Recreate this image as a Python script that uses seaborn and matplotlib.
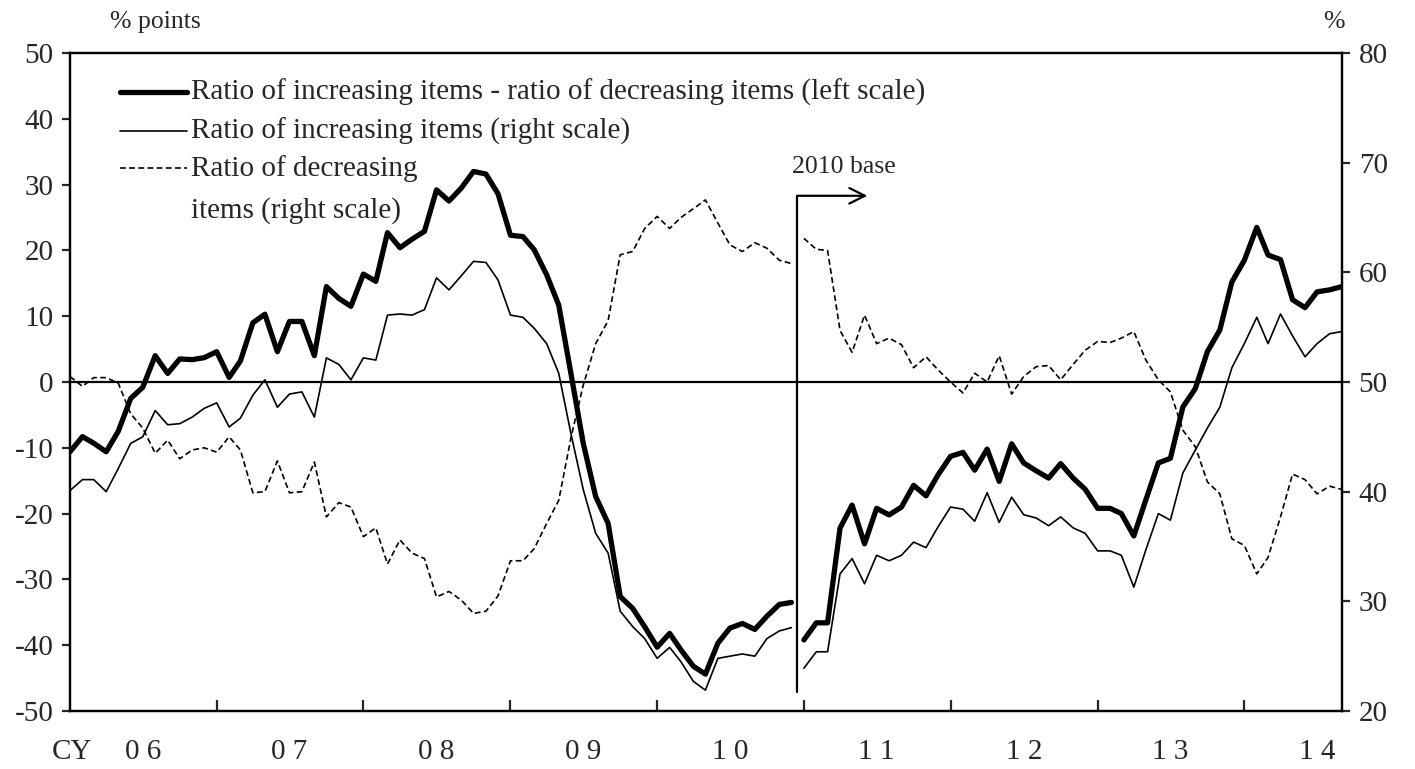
#!/usr/bin/env python
"""Ratio of increasing / decreasing items, monthly 2006-2014,
with the 2010 base break drawn as a gap in the lines.
"""
import matplotlib
matplotlib.use('Agg')
import matplotlib.pyplot as plt
import seaborn as sns
import pandas as pd


# monthly series, Jan 2006 .. Sep 2014
# increasing minus decreasing, % points, left scale
diff_left = [
    -10.6, -8.3, -9.3, -10.6, -7.5, -2.5, -0.8, 4.0, 1.3, 3.5, 3.4, 3.7,
    4.6, 0.7, 3.2, 9.0, 10.3, 4.6, 9.2, 9.2, 4.0, 14.5, 12.7, 11.5,
    16.4, 15.3, 22.7, 20.4, 21.7, 22.9, 29.2, 27.5, 29.5, 32.0, 31.6, 28.6,
    22.3, 22.1, 20.1, 16.3, 11.7, 1.1, -9.3, -17.4, -21.5, -32.6, -34.4, -37.2,
    -40.3, -38.2, -40.7, -43.2, -44.4, -39.7, -37.4, -36.7, -37.6, -35.6, -33.8, -33.5,
    -39.2, -36.6, -36.6, -22.2, -18.7, -24.6, -19.2, -20.2, -19.0, -15.7, -17.3, -14.1,
    -11.3, -10.7, -13.4, -10.2, -15.1, -9.4, -12.3, -13.5, -14.6, -12.4, -14.6, -16.3,
    -19.2, -19.2, -20.0, -23.4, -17.9, -12.3, -11.6, -3.8, -1.0, 4.6, 7.9, 15.2,
    18.5, 23.5, 19.3, 18.6, 12.5, 11.3, 13.7, 14.0, 14.5,
]
# ratio of increasing items, %, right scale
inc_right = [
    40.1, 41.1, 41.1, 40.0, 42.1, 44.4, 45.0, 47.4, 46.1, 46.2, 46.8, 47.6,
    48.1, 45.9, 46.7, 48.8, 50.2, 47.7, 48.9, 49.1, 46.8, 52.2, 51.6, 50.2,
    52.2, 52.0, 56.1, 56.2, 56.1, 56.6, 59.5, 58.4, 59.7, 61.0, 60.9, 59.3,
    56.1, 55.9, 54.9, 53.5, 50.8, 45.2, 40.2, 36.2, 34.4, 29.1, 27.7, 26.6,
    24.8, 25.8, 24.5, 22.7, 21.9, 24.8, 25.0, 25.2, 25.0, 26.6, 27.3, 27.6,
    23.9, 25.4, 25.4, 32.5, 33.9, 31.6, 34.2, 33.7, 34.2, 35.4, 34.9, 36.8,
    38.6, 38.4, 37.3, 39.9, 37.2, 39.5, 37.9, 37.6, 36.9, 37.7, 36.7, 36.2,
    34.6, 34.6, 34.2, 31.3, 34.7, 38.0, 37.4, 41.7, 43.8, 45.8, 47.7, 51.3,
    53.5, 55.9, 53.5, 56.2, 54.2, 52.3, 53.5, 54.4, 54.6,
]
# ratio of decreasing items, %, right scale
dec_right = [
    50.5, 49.6, 50.4, 50.4, 49.9, 47.1, 45.8, 43.5, 44.7, 43.0, 43.8, 44.0,
    43.6, 45.0, 43.8, 39.9, 40.0, 42.8, 39.9, 40.0, 42.7, 37.7, 39.0, 38.6,
    35.9, 36.7, 33.4, 35.6, 34.4, 33.9, 30.4, 30.9, 30.1, 28.9, 29.1, 30.5,
    33.7, 33.7, 34.8, 37.1, 39.2, 45.0, 49.7, 53.5, 55.6, 61.6, 61.9, 64.0,
    65.1, 64.0, 65.0, 65.8, 66.6, 64.5, 62.5, 61.9, 62.7, 62.2, 61.1, 60.8,
    63.1, 62.1, 62.0, 54.7, 52.7, 56.1, 53.5, 54.0, 53.4, 51.3, 52.3, 51.1,
    50.0, 49.0, 50.8, 50.0, 52.4, 48.9, 50.5, 51.4, 51.5, 50.2, 51.6, 52.9,
    53.7, 53.6, 54.0, 54.6, 52.0, 50.2, 49.1, 45.6, 44.1, 40.9, 39.8, 35.7,
    35.1, 32.5, 34.0, 37.7, 41.6, 41.1, 39.8, 40.5, 40.2,
]
years = list(range(2006, 2015))
year_labels = ['0 6', '0 7', '0 8', '0 9', '1 0', '1 1', '1 2', '1 3', '1 4']

legend_texts = [
    'Ratio of increasing items - ratio of decreasing items (left scale)',
    'Ratio of increasing items (right scale)',
    'Ratio of decreasing',
    'items (right scale)',
]


def main():
    sns.set_style('ticks')
    plt.rcParams['font.family'] = ['Liberation Serif', 'DejaVu Serif']
    plt.rcParams['axes.unicode_minus'] = False
    plt.rcParams['axes.linewidth'] = 1.6
    plt.rcParams['axes.edgecolor'] = 'black'

    dates = pd.date_range('2006-01-01', periods=len(diff_left), freq='MS')
    df = pd.DataFrame({
        'date': dates,
        'diff': diff_left,
        'inc': inc_right,
        'dec': dec_right,
    })
    # old / new base year -> separate line pieces
    df['base'] = ['2005' if d < pd.Timestamp('2011-01-01') else '2010' for d in dates]

    fig = plt.figure(figsize=(14.15, 7.69), dpi=100)
    ax = fig.add_axes([70 / 1415, 1 - 711 / 769, 1272 / 1415, 658 / 769])
    ax2 = ax.twinx()

    sns.lineplot(data=df, x='date', y='diff', units='base', estimator=None,
                 color='black', lw=3.8, ax=ax, legend=False)
    sns.lineplot(data=df, x='date', y='inc', units='base', estimator=None,
                 color='black', lw=1.2, ax=ax2, legend=False)
    sns.lineplot(data=df, x='date', y='dec', units='base', estimator=None,
                 color='black', lw=1.2, linestyle=(0, (3.5, 2)), ax=ax2,
                 legend=False)

    ax.axhline(0, color='black', lw=1.6, zorder=1)

    x0 = pd.Timestamp('2006-01-01')
    x1 = pd.Timestamp('2014-09-01')
    ax.set_xlim(x0, x1)
    ax.set_ylim(-50, 50)
    ax2.set_ylim(20, 80)
    ax.set_yticks(range(-50, 51, 10))
    ax2.set_yticks(range(20, 81, 10))
    ax.set_xlabel('')
    ax.set_ylabel('')
    ax2.set_xlabel('')
    ax2.set_ylabel('')

    # year boundaries as inward minor ticks, labels in the middle of the year
    ax.set_xticks([pd.Timestamp(f'{y}-01-01') for y in years[1:]], minor=True)
    ax.set_xticks([pd.Timestamp(f'{y}-07-01') for y in years])
    ax.set_xticklabels(year_labels)
    ax.tick_params(axis='x', which='major', length=0, pad=20, labelsize=21)
    ax.tick_params(axis='x', which='minor', direction='in', length=8, width=1.6)
    ax.tick_params(axis='y', direction='out', length=6, width=1.6, labelsize=21, pad=6)
    ax2.tick_params(axis='y', direction='out', length=6, width=1.6, labelsize=21, pad=6)
    for sp in ax2.spines.values():
        sp.set_linewidth(1.6)

    fig.text(72 / 1415, 1 - 752 / 769, 'CY', fontsize=21, ha='center', va='center')
    fig.text(110 / 1415, 1 - 22 / 769, '% points', fontsize=18.5, ha='left', va='center')
    fig.text(1345 / 1415, 1 - 22 / 769, '%', fontsize=18.5, ha='right', va='center')

    # 2010 base marker
    x_break = pd.Timestamp('2010-12-15')
    ax.plot([x_break, x_break], [-47.1, 28.3], color='black', lw=1.6)
    ax.annotate('', xy=(pd.Timestamp('2011-06-08'), 28.3), xytext=(x_break, 28.3),
                arrowprops=dict(arrowstyle='->', lw=1.6, color='black',
                                mutation_scale=28, shrinkA=0, shrinkB=0))
    ax.text(pd.Timestamp('2011-04-10'), 32.7, '2010 base', fontsize=18.5,
            ha='center', va='center')

    # hand made legend in axes fraction
    tr = ax.transAxes
    rows = [0.9407, 0.8815, 0.8252, 0.7599]
    ax.plot([0.0393, 0.092], [rows[0]] * 2, color='black', lw=3.8, transform=tr)
    ax.plot([0.0393, 0.092], [rows[1]] * 2, color='black', lw=1.2, transform=tr)
    ax.plot([0.0393, 0.092], [rows[2]] * 2, color='black', lw=1.2,
            linestyle=(0, (3.5, 2)), transform=tr)
    for txt, yy in zip(legend_texts, rows):
        ax.text(0.0951, yy, txt, fontsize=21, ha='left', va='center', transform=tr)

    fig.savefig('out.png', dpi=100)


if __name__ == '__main__':
    main()
